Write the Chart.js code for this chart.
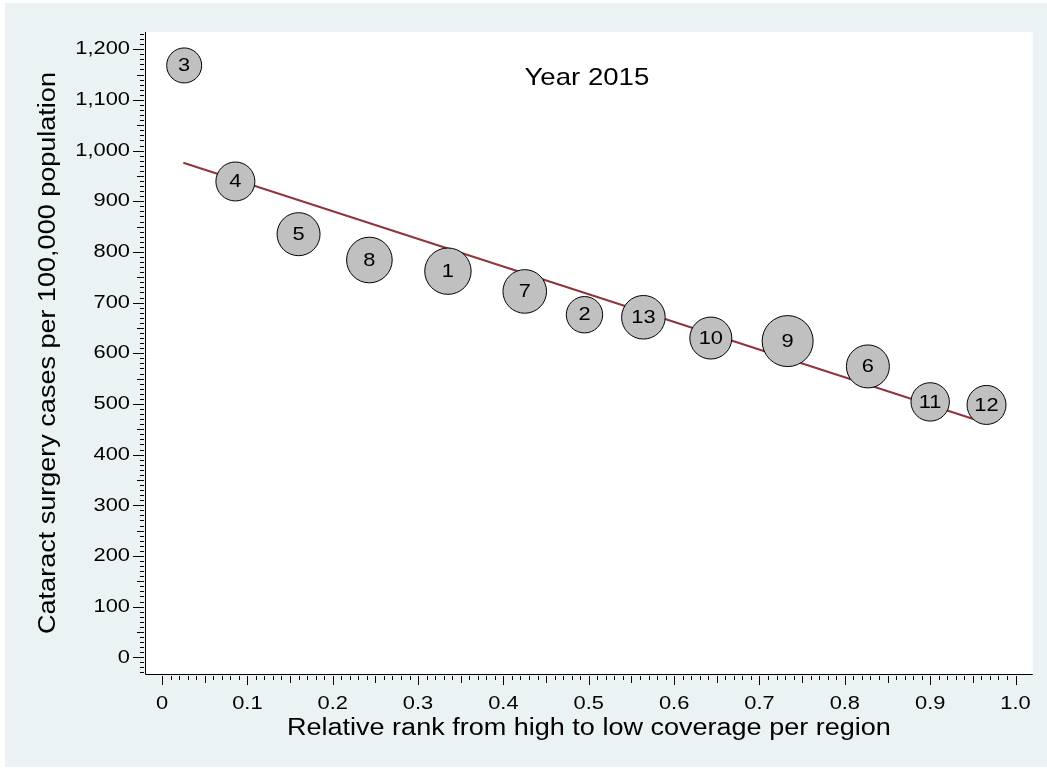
<!DOCTYPE html>
<html>
<head>
<meta charset="utf-8">
<script src="https://cdn.jsdelivr.net/npm/chart.js@4/dist/chart.umd.min.js"></script>
<style>
  html, body { margin: 0; padding: 0; background: #ffffff; }
  #wrap { position: relative; width: 1047px; height: 769px; }
  canvas { display: block; }
</style>
</head>
<body>
<div id="wrap"><canvas id="c" width="1047" height="769"></canvas></div>
<script>
// ---- data ----
const regionLabels = ['3', '4', '5', '8', '1', '7', '2', '13', '10', '9', '6', '11', '12'];
const relativeRank = [0.026, 0.086, 0.160, 0.243, 0.335, 0.425, 0.495, 0.564, 0.643, 0.733, 0.827, 0.900, 0.966];
const surgeryRate = [1168, 939, 835, 784, 762, 722, 676, 671, 630, 624, 574, 504, 498];
const regionWeight = [17.5, 19.5, 21.5, 22.8, 23.2, 21.8, 18.2, 21.8, 21.0, 25.5, 21.5, 19.2, 19.5];
const fitRank = [0.025, 0.966];
const fitRate = [976, 462];
const xTickValues = [0, 0.1, 0.2, 0.3, 0.4, 0.5, 0.6, 0.7, 0.8, 0.9, 1.0];
const yTickValues = [0, 100, 200, 300, 400, 500, 600, 700, 800, 900, 1000, 1100, 1200];
const chartTitle = 'Year 2015';
const xTitle = 'Relative rank from high to low coverage per region';
const yTitle = 'Cataract surgery cases per 100,000 population';

const FONT = "'Liberation Sans', Arial, Helvetica, sans-serif";
const TEXT_STRETCH = 1.15; // the reference text is drawn horizontally widened

const canvas = document.getElementById('c');
const ctx2d = canvas.getContext('2d');
const nativeFillText = CanvasRenderingContext2D.prototype.fillText;
ctx2d.fillText = function (t, x, y, mw) {
  this.save();
  this.translate(x, y);
  this.scale(TEXT_STRETCH, 1);
  if (mw === undefined || mw === null) nativeFillText.call(this, t, 0, 0);
  else nativeFillText.call(this, t, 0, 0, mw / TEXT_STRETCH);
  this.restore();
};

const bgPlugin = {
  id: 'bg',
  beforeDraw(chart) {
    const { ctx, chartArea: a } = chart;
    ctx.save();
    ctx.fillStyle = '#ffffff';
    ctx.fillRect(0, 0, chart.width, chart.height);
    ctx.fillStyle = '#EAF2F3';
    ctx.fillRect(5, 3, chart.width - 5, chart.height - 5);
    ctx.fillStyle = '#ffffff';
    ctx.fillRect(a.left, a.top, a.right - a.left, a.bottom - a.top);
    ctx.restore();
  }
};

const axesPlugin = {
  id: 'stataAxes',
  afterDraw(chart) {
    const { ctx, chartArea: a } = chart;
    const xs = chart.scales.x, ys = chart.scales.y;
    ctx.save();
    ctx.strokeStyle = '#000';
    ctx.lineWidth = 1;
    ctx.beginPath();
    ctx.moveTo(a.left + 0.5, a.top);
    ctx.lineTo(a.left + 0.5, a.bottom + 0.5);
    ctx.lineTo(a.right, a.bottom + 0.5);
    ctx.stroke();
    ctx.beginPath();
    for (let i = 0; i <= 100; i++) {
      const px = Math.round(xs.getPixelForValue(i / 100)) + 0.5;
      const len = i % 10 === 0 ? 9 : (i % 5 === 0 ? 7 : 4);
      ctx.moveTo(px, a.bottom + 2);
      ctx.lineTo(px, a.bottom + 2 + len);
    }
    for (let v = -30; v <= 1230; v += 10) {
      const py = Math.round(ys.getPixelForValue(v)) + 0.5;
      const len = v % 100 === 0 ? 11 : (v % 50 === 0 ? 7 : 4);
      ctx.moveTo(a.left - 1, py);
      ctx.lineTo(a.left - 1 - len, py);
    }
    ctx.stroke();
    ctx.restore();
  }
};

const labelPlugin = {
  id: 'bubbleLabels',
  afterDatasetsDraw(chart) {
    const { ctx, chartArea: a } = chart;
    const meta = chart.getDatasetMeta(1);
    ctx.save();
    ctx.fillStyle = '#000';
    ctx.font = '19px ' + FONT;
    ctx.textAlign = 'center';
    ctx.textBaseline = 'middle';
    meta.data.forEach((el, i) => {
      ctx.fillText(regionLabels[i], el.x, el.y + 0.5);
    });
    ctx.font = '24px ' + FONT;
    ctx.fillText(chartTitle, (a.left + a.right) / 2 - 2, a.top + 46);
    ctx.restore();
  }
};

new Chart(canvas, {
  data: {
    datasets: [
      {
        type: 'line',
        data: fitRank.map((x, i) => ({ x, y: fitRate[i] })),
        borderColor: '#90353B',
        borderWidth: 2,
        pointRadius: 0,
        fill: false,
        order: 2
      },
      {
        type: 'bubble',
        data: relativeRank.map((x, i) => ({ x, y: surgeryRate[i], r: regionWeight[i] })),
        backgroundColor: '#C0C0C0',
        borderColor: '#000',
        borderWidth: 1,
        order: 1,
        clip: false
      }
    ]
  },
  options: {
    responsive: false,
    animation: false,
    devicePixelRatio: 1,
    events: [],
    layout: { autoPadding: false, padding: { top: 32, right: 13, left: 0, bottom: 0 } },
    plugins: { legend: { display: false }, tooltip: { enabled: false }, title: { display: false } },
    scales: {
      x: {
        type: 'linear',
        min: -0.0199,
        max: 1.0202,
        grid: { display: false, drawTicks: false },
        border: { display: false },
        afterBuildTicks: (s) => { s.ticks = xTickValues.map(v => ({ value: v })); },
        afterFit: (s) => { s.height = 95; },
        ticks: {
          padding: 18,
          color: '#000',
          font: { family: FONT, size: 19 },
          autoSkip: false,
          maxRotation: 0,
          callback: (v) => v === 0 ? '0' : Number(v).toFixed(1)
        },
        title: {
          display: true,
          text: xTitle,
          color: '#000',
          font: { family: FONT, size: 23.5 },
          padding: { top: 0, bottom: 26 }
        }
      },
      y: {
        type: 'linear',
        min: -33,
        max: 1234,
        grid: { display: false, drawTicks: false },
        border: { display: false },
        afterBuildTicks: (s) => { s.ticks = yTickValues.map(v => ({ value: v })); },
        afterFit: (s) => { s.width = 145; },
        ticks: {
          padding: 15,
          color: '#000',
          font: { family: FONT, size: 19 },
          autoSkip: false,
          callback: (v) => Number(v).toLocaleString('en-US')
        },
        title: {
          display: true,
          text: yTitle,
          color: '#000',
          font: { family: FONT, size: 23.5 },
          padding: { top: 34.5, bottom: 0 }
        }
      }
    }
  },
  plugins: [bgPlugin, axesPlugin, labelPlugin]
});
</script>
</body>
</html>
